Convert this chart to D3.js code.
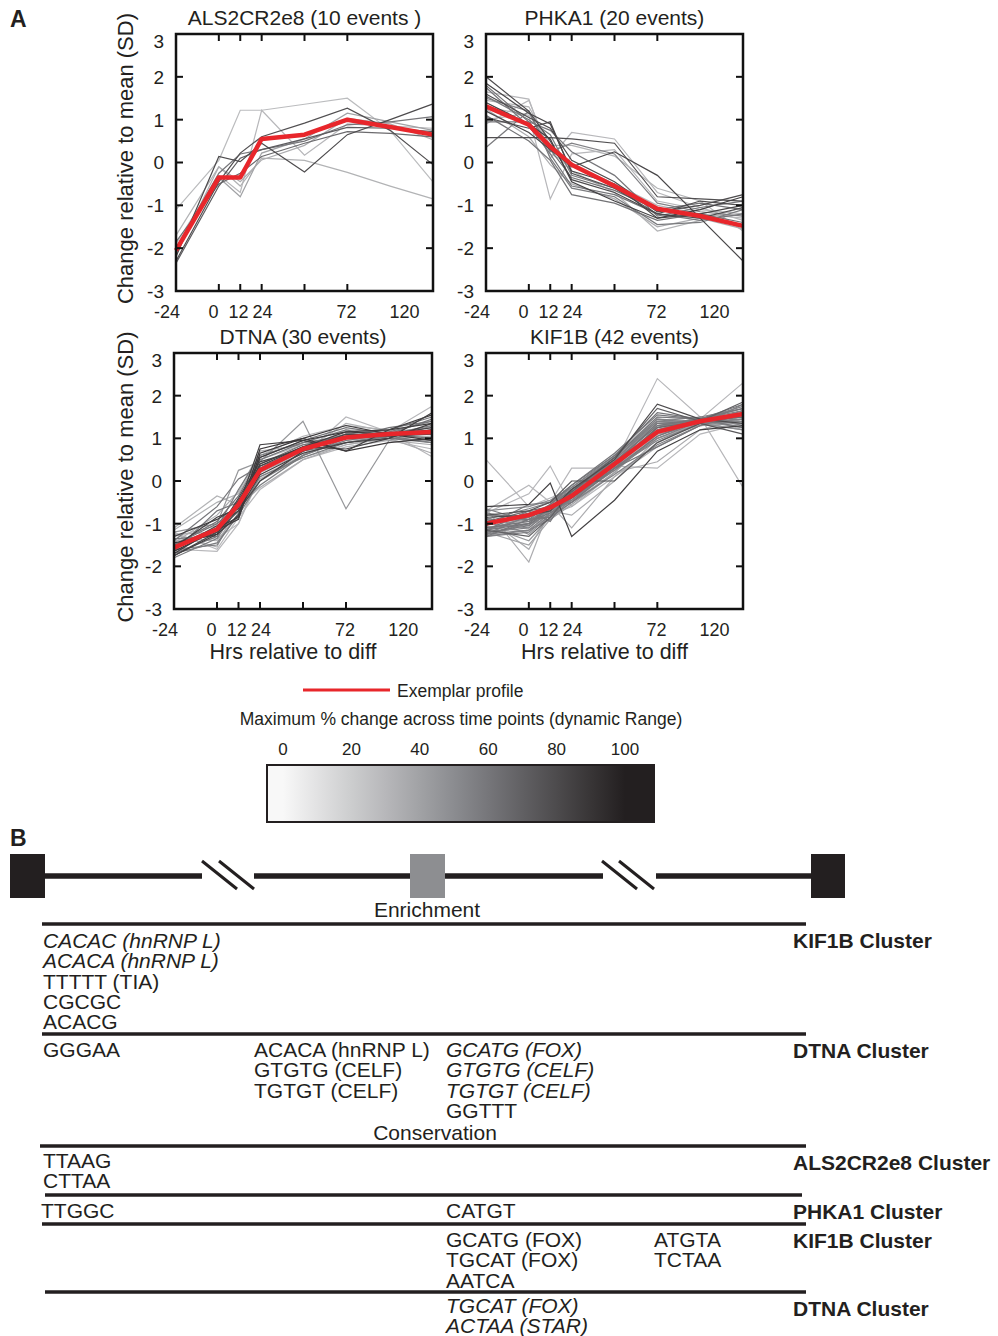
<!DOCTYPE html>
<html>
<head>
<meta charset="utf-8">
<script src="https://cdn.jsdelivr.net/npm/d3@7"></script>
<style>
  body { margin: 0; background: #fff; }
  text { font-family: "Liberation Sans", Arial, Helvetica, sans-serif; fill: #231f20; }
</style>
</head>
<body>
<div id="chart"></div>
<script>
// time points (hrs relative to diff)
var timePoints = [-24, 0, 12, 24, 48, 72, 96, 120];
var yTicks = [-3, -2, -1, 0, 1, 2, 3];
var xTickMarks = [0, 12, 24, 48, 72];
var xTickLabels = ["-24", "0", "12", "24", "72", "120"];
var xTickLabelAt = [-29, -3, 11, 24.5, 71.5, 104];

// ALS2CR2e8 (10 events)
var als2Events = [
  [-1.1, 0.05, 1.22, 1.22, 1.36, 1.5, 0.75, -0.45],
  [-1.9, -0.3, -0.7, 1.22, 0.17, 0.9, 0.85, 0.8],
  [-1.7, -0.1, -0.55, 0.1, 0.05, -0.23, -0.55, -0.85],
  [-2.2, 0.14, 0.02, 0.45, -0.22, 0.65, 1.0, 1.37],
  [-2.3, -0.45, 0.22, 0.6, 0.92, 1.27, 0.75, -0.05],
  [-2.0, -0.25, 0.2, 0.3, 0.5, 0.88, 0.95, 1.07],
  [-1.85, -0.5, -0.25, 0.14, 0.45, 0.72, 0.68, 0.6],
  [-2.1, -0.35, -0.8, 0.22, 0.55, 1.15, 0.95, 0.75],
  [-2.35, -0.55, 0.1, 0.3, 0.55, 0.82, 0.8, 0.72],
  [-2.15, -0.1, -0.45, 0.06, 0.4, 1.03, 0.9, 0.53]
];
var als2Range = [28, 30, 32, 80, 78, 60, 65, 40, 72, 35];
var als2Exemplar = [-2.05, -0.35, -0.35, 0.55, 0.65, 1.0, 0.83, 0.65];

// PHKA1 (20 events)
var phkaEvents = [
  [2.0, 1.2, 0.5, -0.4, -0.7, -1.2, -1.3, -1.05],
  [1.85, 1.15, 0.9, -0.2, -0.5, -1.3, -1.2, -1.0],
  [1.75, 0.85, 0.2, -0.55, -0.75, -1.2, -1.35, -1.2],
  [1.65, 1.48, 0.1, 0.7, 0.55, -0.7, -1.05, -1.35],
  [1.55, 1.0, 0.65, -0.3, -0.6, -1.1, -1.2, -1.5],
  [1.45, 1.3, 0.4, 0.4, 0.15, -0.6, -0.9, -1.6],
  [1.4, 0.9, 0.55, -0.45, -0.9, -1.3, -1.1, -0.8],
  [1.3, 1.1, -0.85, 0.2, 0.3, -0.9, -1.1, -1.2],
  [1.2, 0.7, 0.3, -0.1, 0.25, -0.3, -1.3, -2.3],
  [1.1, 0.5, 0.05, -0.75, -0.95, -1.35, -1.2, -1.4],
  [1.0, 1.15, 0.35, -0.2, -0.7, -1.6, -1.35, -1.05],
  [0.95, 0.95, 0.75, 0.25, -0.3, -1.25, -1.05, -0.9],
  [0.58, 0.58, 0.58, 0.55, 0.45, -0.8, -0.85, -0.9],
  [0.35, 1.2, 0.1, -0.6, -0.8, -1.45, -1.4, -1.1],
  [0.9, 1.45, 0.2, -0.05, -0.5, -1.0, -1.2, -1.3],
  [1.6, 1.05, 0.8, 0.05, -0.45, -1.15, -1.0, -0.75],
  [1.8, 0.95, 0.3, -0.35, -0.65, -1.1, -0.95, -1.1],
  [1.25, 0.6, -0.05, -0.5, -0.85, -1.5, -1.3, -1.55],
  [1.5, 1.2, 0.25, 0.45, 0.2, -0.95, -1.15, -1.25],
  [1.05, 0.8, 0.95, -0.25, -0.6, -1.2, -0.9, -1.0]
];
var phkaRange = [80, 82, 60, 30, 58, 32, 85, 30, 82, 62, 32, 60, 78, 58, 30, 80, 62, 35, 55, 78];
var phkaExemplar = [1.31, 0.88, 0.37, -0.05, -0.55, -1.08, -1.25, -1.48];

// DTNA (30 events)
var dtnaEvents = [
  [-1.1, -0.35, -0.55, 0.5, 0.85, 1.1, 1.05, 1.2],
  [-1.2, -1.0, 0.25, 0.45, 1.4, -0.65, 0.95, 1.3],
  [-1.3, -0.9, -0.6, 0.85, 0.95, 0.7, 1.2, 1.55],
  [-1.45, -1.25, -0.8, 0.75, 1.0, 1.3, 1.1, 0.95],
  [-1.6, -1.65, -1.0, 0.1, 0.6, 1.5, 1.15, 0.57],
  [-1.7, -1.3, -0.5, 0.3, 0.75, 1.0, 1.1, 1.45],
  [-1.75, -1.2, -0.7, 0.0, 0.7, 1.05, 1.1, 1.25],
  [-1.5, -1.1, -0.2, 0.6, 0.9, 1.2, 1.0, 0.9],
  [-1.35, -1.4, -0.75, 0.2, 0.65, 0.95, 1.05, 1.1],
  [-1.55, -0.85, -0.65, 0.4, 0.8, 1.15, 1.2, 1.35],
  [-1.25, -1.55, -0.45, 0.05, 0.55, 0.85, 1.0, 1.05],
  [-1.65, -1.15, -0.9, 0.65, 1.0, 0.7, 0.9, 1.0],
  [-1.4, -0.6, 0.05, 0.35, 0.7, 0.9, 1.05, 1.2],
  [-1.8, -1.35, -0.6, -0.1, 0.6, 1.0, 1.15, 1.4],
  [-1.2, -1.6, -0.85, -0.2, 0.5, 0.8, 0.95, 0.75],
  [-1.5, -0.95, -0.35, 0.55, 0.95, 1.25, 1.1, 1.0],
  [-1.6, -1.05, -0.7, 0.15, 0.65, 0.9, 1.0, 1.6],
  [-1.35, -1.3, -0.55, 0.3, 0.8, 1.1, 1.2, 1.5],
  [-1.45, -0.8, -0.25, 0.7, 0.85, 1.0, 0.95, 0.85],
  [-1.7, -1.45, -0.8, 0.0, 0.6, 0.95, 1.1, 1.3],
  [-1.55, -1.2, -0.4, 0.45, 0.75, 1.1, 1.05, 1.1],
  [-1.3, -1.05, -0.65, 0.25, 0.7, 1.35, 1.15, 1.25],
  [-1.65, -0.7, -0.5, 0.5, 0.9, 1.05, 1.0, 0.95],
  [-1.4, -1.35, -1.0, 0.2, 0.7, 1.2, 1.15, 1.75],
  [-1.75, -1.25, -0.45, 0.35, 0.8, 0.75, 1.0, 1.35],
  [-1.15, -0.5, -0.3, 0.6, 1.05, 1.3, 1.2, 1.15],
  [-1.6, -1.5, -0.75, 0.1, 0.55, 0.9, 1.05, 0.9],
  [-1.5, -1.0, -0.55, 0.4, 0.85, 1.0, 1.25, 1.4],
  [-1.25, -1.2, -0.6, -0.15, 0.5, 0.85, 1.0, 0.65],
  [-1.7, -1.1, -0.85, 0.55, 0.95, 1.15, 1.1, 1.2]
];
var dtnaRange = [32, 45, 85, 88, 30, 60, 82, 58, 35, 85, 32, 88, 60, 58, 30, 62, 85, 60, 35, 58,
  82, 32, 60, 30, 85, 32, 58, 62, 35, 88];
var dtnaExemplar = [-1.56, -1.13, -0.55, 0.25, 0.75, 1.02, 1.1, 1.15];

// KIF1B (42 events)
var kifEvents = [
  [0.5, -0.6, -0.4, -0.2, 0.3, 1.0, 1.3, 1.4],
  [-0.6, -0.55, -0.05, -1.3, -0.45, 0.7, 1.2, 1.3],
  [-0.65, -1.9, -0.6, -0.5, 0.2, 1.3, 1.35, 1.2],
  [-0.7, -0.1, -0.5, 0.3, 0.3, 1.1, 1.3, 1.5],
  [-0.75, -0.3, 0.35, -0.6, 0.1, 0.9, 1.4, 1.6],
  [-0.8, -0.7, -0.5, 0.0, 0.0, 0.9, 1.35, 1.1],
  [-0.85, -0.8, -0.7, -0.2, 0.5, 1.8, 1.45, 1.35],
  [-0.9, -1.0, -0.9, -0.5, 0.4, 2.4, 1.5, 1.2],
  [-0.95, -0.95, -0.6, -0.3, 0.6, 1.5, 1.45, 2.3],
  [-1.0, -0.85, -0.65, -0.35, 0.45, 1.2, 1.5, -0.15],
  [-1.05, -1.2, -0.75, -0.4, 0.35, 0.3, 1.1, 1.35],
  [-1.1, -0.9, -0.8, -0.6, 0.2, 0.45, 1.2, 1.45],
  [-1.15, -1.3, -0.85, -0.25, 0.55, 1.7, 1.4, 1.85],
  [-1.2, -1.1, -0.7, -0.45, 0.3, 1.25, 1.45, 1.75],
  [-1.25, -1.0, -0.55, -0.15, 0.6, 1.4, 1.35, 1.65],
  [-1.3, -1.15, -0.9, -0.4, 0.25, 1.0, 1.4, 1.55],
  [-1.0, -0.75, -0.6, -0.3, 0.4, 1.35, 1.4, 1.5],
  [-0.9, -0.65, -0.5, -0.25, 0.5, 1.45, 1.35, 1.4],
  [-1.1, -0.95, -0.75, -0.4, 0.3, 1.05, 1.45, 1.7],
  [-0.95, -0.9, -0.7, -0.3, 0.45, 1.3, 1.4, 1.6],
  [-1.2, -1.05, -0.6, -0.2, 0.55, 1.5, 1.45, 1.25],
  [-0.85, -1.25, -0.8, -0.35, 0.35, 1.15, 1.35, 1.45],
  [-1.15, -0.85, -0.65, -0.5, 0.15, 0.85, 1.3, 1.8],
  [-1.05, -1.4, -0.85, -0.45, 0.35, 1.2, 1.4, 1.35],
  [-0.75, -0.9, -0.55, -0.1, 0.65, 1.55, 1.45, 1.5],
  [-1.25, -0.8, -0.7, -0.3, 0.4, 1.25, 1.5, 1.7],
  [-1.0, -1.1, -0.65, -0.35, 0.5, 1.35, 1.4, 1.55],
  [-1.3, -1.2, -0.8, -0.4, 0.3, 0.95, 1.35, 1.45],
  [-0.8, -0.85, -0.55, -0.2, 0.5, 1.4, 1.5, 1.3],
  [-1.15, -1.0, -0.6, -0.25, 0.45, 1.3, 1.45, 1.6],
  [-0.7, -0.6, -0.45, -0.15, 0.55, 1.45, 1.4, 1.25],
  [-1.2, -1.5, -0.9, -0.55, 0.2, 1.1, 1.3, 1.4],
  [-0.95, -0.7, -0.6, -0.4, 0.35, 1.25, 1.4, 1.5],
  [-1.1, -1.0, -0.8, -0.35, 0.4, 1.2, 1.45, 1.65],
  [-1.05, -0.55, -0.5, -0.1, 0.6, 1.6, 1.45, 1.8],
  [-1.25, -1.15, -0.75, -0.45, 0.25, 1.05, 1.4, 1.5],
  [-0.9, -1.05, -0.65, -0.3, 0.45, 1.35, 1.35, 1.2],
  [-1.3, -0.9, -0.85, -0.5, 0.3, 0.8, 1.3, 1.55],
  [-0.85, -1.6, -0.7, -0.8, 0.0, 1.0, 1.35, 1.4],
  [-1.0, -0.8, -0.55, -1.1, 0.1, 0.8, 1.3, 1.35],
  [-1.15, -0.7, -0.95, -0.2, 0.45, 1.15, 1.45, 1.7],
  [-0.65, -0.95, -0.6, -0.3, 0.5, 1.4, 1.4, 1.45]
];
var kifRange = [30, 85, 35, 30, 30, 75, 80, 30, 30, 30, 30, 35, 70, 55, 55, 55, 60, 55, 60, 55, 60,
  50, 55, 45, 60, 55, 50, 55, 55, 60, 50, 40, 65, 55, 60, 55, 50, 60, 35, 35, 60, 55];
var kifExemplar = [-1.0, -0.8, -0.62, -0.35, 0.4, 1.15, 1.4, 1.57];

// colour bar
var rangeTicks = [0, 20, 40, 60, 80, 100];

// part B motifs
var motifBlocks = [
  { cluster: "KIF1B Cluster", cols: [
      [["CACAC (hnRNP L)", 1], ["ACACA (hnRNP L)", 1], ["TTTTT (TIA)", 0], ["CGCGC", 0], ["ACACG", 0]], [], [], []] },
  { cluster: "DTNA Cluster", cols: [
      [["GGGAA", 0]],
      [["ACACA (hnRNP L)", 0], ["GTGTG (CELF)", 0], ["TGTGT (CELF)", 0]],
      [["GCATG (FOX)", 1], ["GTGTG (CELF)", 1], ["TGTGT (CELF)", 1], ["GGTTT", 0]], []] },
  { cluster: "ALS2CR2e8 Cluster", cols: [[["TTAAG", 0], ["CTTAA", 0]], [], [], []] },
  { cluster: "PHKA1 Cluster", cols: [[["TTGGC", 0]], [], [["CATGT", 0]], []] },
  { cluster: "KIF1B Cluster", cols: [[], [],
      [["GCATG (FOX)", 0], ["TGCAT (FOX)", 0], ["AATCA", 0]], [["ATGTA", 0], ["TCTAA", 0]]] },
  { cluster: "DTNA Cluster", cols: [[], [], [["TGCAT (FOX)", 1], ["ACTAA (STAR)", 1]], []] }
];

var W = 998, H = 1336;
var ink = "#231f20";
var svg = d3.select("#chart").append("svg").attr("width", W).attr("height", H);

var shade = d3.scaleLinear().domain([0, 50, 100]).range(["#f8f8f8", "#8b8c90", ink]);

var panels = [
  { title: "ALS2CR2e8 (10 events )", ev: als2Events, rg: als2Range, ex: als2Exemplar, box: [176, 433, 34, 291], yl: true, xl: false },
  { title: "PHKA1 (20 events)", ev: phkaEvents, rg: phkaRange, ex: phkaExemplar, box: [486, 743, 34, 291], yl: false, xl: false },
  { title: "DTNA (30 events)", ev: dtnaEvents, rg: dtnaRange, ex: dtnaExemplar, box: [174, 432, 353, 609], yl: true, xl: true },
  { title: "KIF1B (42 events)", ev: kifEvents, rg: kifRange, ex: kifExemplar, box: [486, 743, 353, 609], yl: false, xl: true }
];

panels.forEach(function (p, i) {
  var b = p.box;
  var x = d3.scaleLinear().domain([-24, 120]).range([b[0], b[1]]);
  var y = d3.scaleLinear().domain([-3, 3]).range([b[3], b[2]]);
  var g = svg.append("g");

  var line = d3.line()
    .x(function (d, j) { return x(timePoints[j]); })
    .y(function (d) { return y(d); });

  // light lines first so the darker ones sit on top
  var order = d3.range(p.ev.length).sort(function (a, c) { return p.rg[a] - p.rg[c]; });
  g.selectAll(".ev")
    .data(order)
    .enter().append("path")
    .attr("d", function (k) { return line(p.ev[k]); })
    .attr("fill", "none")
    .attr("stroke", function (k) { return shade(p.rg[k]); })
    .attr("stroke-width", 1.2);

  g.append("path")
    .attr("d", line(p.ex))
    .attr("fill", "none")
    .attr("stroke", "#e8262b")
    .attr("stroke-width", 4.5)
    .attr("stroke-linejoin", "round");

  // frame
  g.append("rect")
    .attr("x", b[0]).attr("y", b[2])
    .attr("width", b[1] - b[0]).attr("height", b[3] - b[2])
    .attr("fill", "none").attr("stroke", "#111").attr("stroke-width", 2.5);

  // inward ticks
  yTicks.forEach(function (v) {
    g.append("line").attr("x1", b[0]).attr("x2", b[0] + 7).attr("y1", y(v)).attr("y2", y(v))
      .attr("stroke", "#111").attr("stroke-width", 2);
    g.append("line").attr("x1", b[1]).attr("x2", b[1] - 7).attr("y1", y(v)).attr("y2", y(v))
      .attr("stroke", "#111").attr("stroke-width", 2);
    g.append("text")
      .attr("x", b[0] - 12).attr("y", y(v) + (v === 3 ? 7 : 0))
      .attr("dy", "0.36em")
      .attr("text-anchor", "end")
      .style("font-size", "19px")
      .text(v);
  });
  xTickMarks.forEach(function (v) {
    g.append("line").attr("x1", x(v)).attr("x2", x(v)).attr("y1", b[2]).attr("y2", b[2] + 7)
      .attr("stroke", "#111").attr("stroke-width", 2);
    g.append("line").attr("x1", x(v)).attr("x2", x(v)).attr("y1", b[3]).attr("y2", b[3] - 7)
      .attr("stroke", "#111").attr("stroke-width", 2);
  });
  xTickLabels.forEach(function (t, j) {
    g.append("text")
      .attr("x", x(xTickLabelAt[j])).attr("y", b[3] + 27)
      .attr("text-anchor", "middle")
      .style("font-size", "18px")
      .text(t);
  });

  g.append("text")
    .attr("x", (b[0] + b[1]) / 2).attr("y", b[2] - 9)
    .attr("text-anchor", "middle")
    .style("font-size", "21px")
    .text(p.title);

  if (p.yl) {
    var cy = (b[2] + b[3]) / 2 - 4;
    g.append("text")
      .attr("transform", "translate(133," + cy + ") rotate(-90)")
      .attr("text-anchor", "middle")
      .style("font-size", "22px")
      .text("Change relative to mean (SD)");
  }
  if (p.xl) {
    g.append("text")
      .attr("x", (b[0] + b[1]) / 2 - 10).attr("y", b[3] + 50)
      .attr("text-anchor", "middle")
      .style("font-size", "21.5px")
      .text("Hrs relative to diff");
  }
});

svg.append("text").attr("x", 10).attr("y", 27).style("font-size", "23px").style("font-weight", "bold").text("A");
svg.append("text").attr("x", 10).attr("y", 846).style("font-size", "23px").style("font-weight", "bold").text("B");

// legend
svg.append("line").attr("x1", 303).attr("x2", 390).attr("y1", 690).attr("y2", 690)
  .attr("stroke", "#e8262b").attr("stroke-width", 3);
svg.append("text").attr("x", 397).attr("y", 697).style("font-size", "17.5px").text("Exemplar profile");
svg.append("text").attr("x", 461).attr("y", 725).attr("text-anchor", "middle").style("font-size", "17.5px")
  .text("Maximum % change across time points (dynamic Range)");

var cb = d3.scaleLinear().domain([0, 100]).range([283, 625]);
var cbX = 267, cbW = 387, cbY = 765, cbH = 57;
var grad = svg.append("defs").append("linearGradient").attr("id", "rangeGrad")
  .attr("x1", "0%").attr("x2", "100%").attr("y1", "0%").attr("y2", "0%");
d3.range(0, 101, 10).forEach(function (v) {
  grad.append("stop")
    .attr("offset", Math.max(0, (cb(v) - cbX) / cbW))
    .attr("stop-color", shade(v));
});
svg.append("rect").attr("x", cbX).attr("y", cbY).attr("width", cbW).attr("height", cbH)
  .attr("fill", "url(#rangeGrad)").attr("stroke", ink).attr("stroke-width", 2);
svg.selectAll(".cbt").data(rangeTicks).enter().append("text")
  .attr("x", function (d) { return cb(d); }).attr("y", 755)
  .attr("text-anchor", "middle").style("font-size", "17px")
  .text(function (d) { return d; });

// gene diagram
var gy = 876;
[[45, 202], [254, 603], [656, 811]].forEach(function (s) {
  svg.append("line").attr("x1", s[0]).attr("x2", s[1]).attr("y1", gy).attr("y2", gy)
    .attr("stroke", ink).attr("stroke-width", 5.5);
});
[202, 219, 602, 619].forEach(function (sx) {
  svg.append("line").attr("x1", sx).attr("y1", 861).attr("x2", sx + 35).attr("y2", 889)
    .attr("stroke", ink).attr("stroke-width", 3);
});
svg.append("rect").attr("x", 10).attr("y", 854).attr("width", 35).attr("height", 44).attr("fill", ink);
svg.append("rect").attr("x", 811).attr("y", 854).attr("width", 34).attr("height", 44).attr("fill", ink);
svg.append("rect").attr("x", 410).attr("y", 854).attr("width", 35).attr("height", 44).attr("fill", "#8d8e91");

svg.append("text").attr("x", 427).attr("y", 917).attr("text-anchor", "middle").style("font-size", "21px").text("Enrichment");
svg.append("text").attr("x", 435).attr("y", 1140).attr("text-anchor", "middle").style("font-size", "21px").text("Conservation");

// motif table
var ruleY = [924, 1034, 1146, 1195, 1224, 1292];
var ruleX = [[42, 806], [42, 806], [40, 806], [45, 802], [42, 806], [45, 806]];
var rowStart = [24, 23, 22, 23, 23, 21];
var colX = [43, 254, 446, 654];
motifBlocks.forEach(function (blk, i) {
  var top = ruleY[i];
  svg.append("line").attr("x1", ruleX[i][0]).attr("x2", ruleX[i][1]).attr("y1", top).attr("y2", top)
    .attr("stroke", ink).attr("stroke-width", 3.5);
  svg.append("text").attr("x", 793).attr("y", top + 24)
    .style("font-size", "21px").style("font-weight", "bold").text(blk.cluster);
  blk.cols.forEach(function (col, c) {
    col.forEach(function (m, r) {
      svg.append("text")
        .attr("x", colX[c] + (i === 3 && c === 0 ? -2 : 0))
        .attr("y", top + rowStart[i] + r * 20.3)
        .style("font-size", "21px")
        .style("font-style", m[1] ? "italic" : "normal")
        .text(m[0]);
    });
  });
});
</script>
</body>
</html>
